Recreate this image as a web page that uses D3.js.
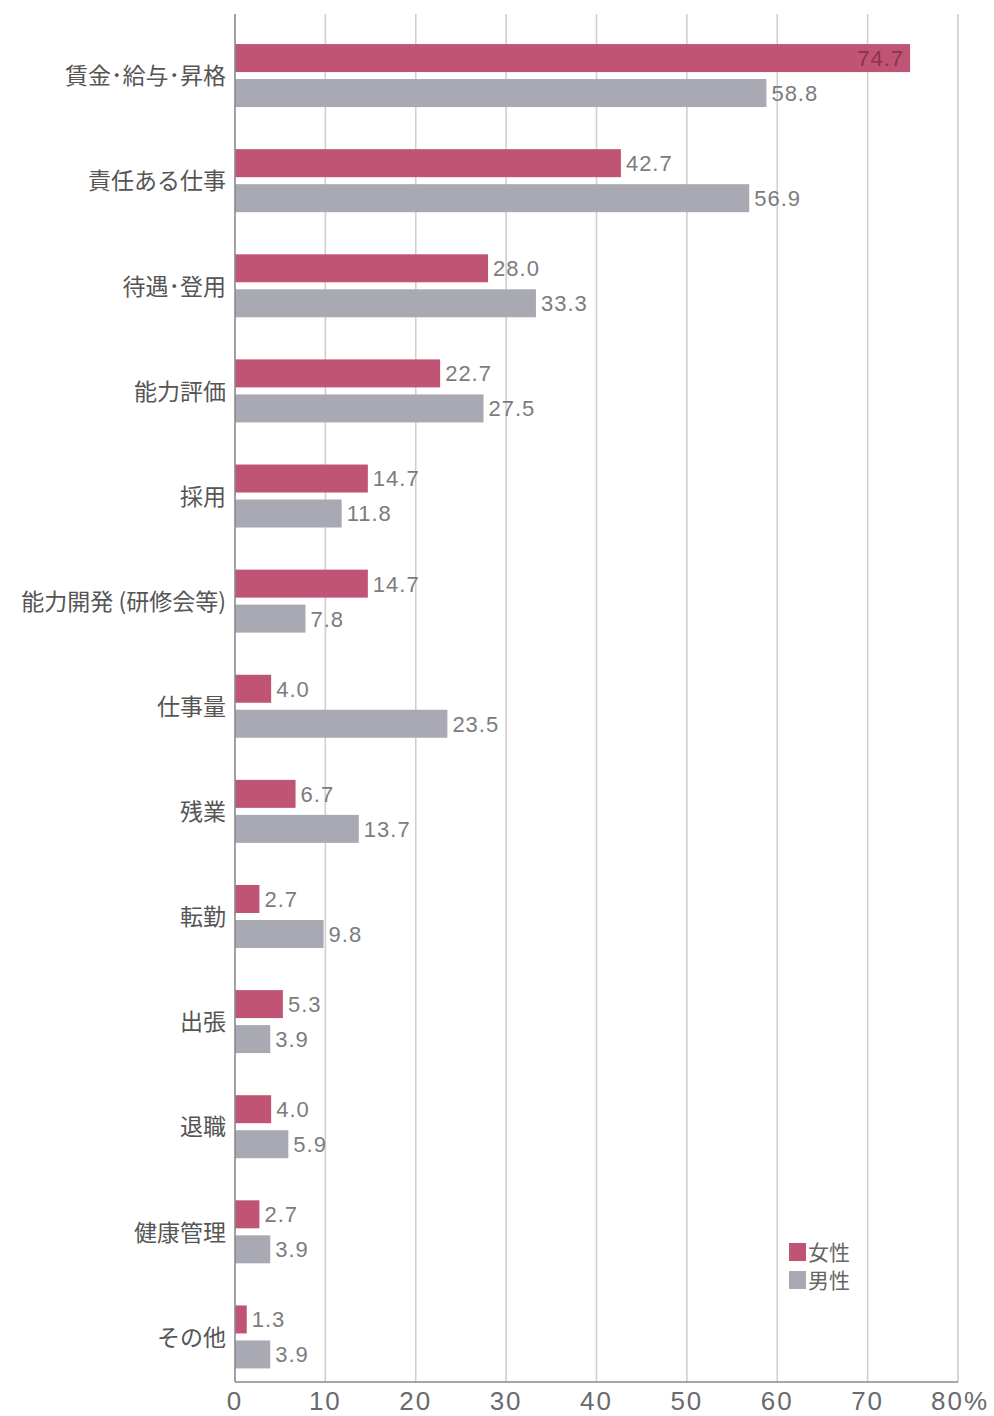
<!DOCTYPE html>
<html><head><meta charset="utf-8">
<script src="https://cdn.jsdelivr.net/npm/d3@7"></script>
<style>
body{margin:0;background:#fff;}
svg{display:block;font-family:"Noto Sans CJK JP","Noto Sans",sans-serif;}
</style></head>
<body>
<svg id="chart" width="994" height="1416"></svg>
<script>
const categories = ["賃金･給与･昇格","責任ある仕事","待遇･登用","能力評価","採用","能力開発 (研修会等)","仕事量","残業","転勤","出張","退職","健康管理","その他"];
const female = [74.7,42.7,28.0,22.7,14.7,14.7,4.0,6.7,2.7,5.3,4.0,2.7,1.3];
const male = [58.8,56.9,33.3,27.5,11.8,7.8,23.5,13.7,9.8,3.9,5.9,3.9,3.9];
const xTicks = [0,10,20,30,40,50,60,70,80];
const seriesNames = ["女性","男性"];
const colors = ["#c05474","#a9a9b3"];

const svg = d3.select("#chart");
const x = d3.scaleLinear().domain([0,80]).range([235,958]);
const y = d3.scaleBand().domain(categories).range([23.5,1390]).paddingInner(0).paddingOuter(0);
const axisY = 1382;

// gridlines
svg.append("g").selectAll("line").data(xTicks.slice(1)).join("line")
  .attr("x1",d=>x(d)).attr("x2",d=>x(d)).attr("y1",14).attr("y2",axisY)
  .attr("stroke","#cfcfd2").attr("stroke-width",1.6);

// bars
const g = svg.append("g");
categories.forEach((c,i)=>{
  const cy = y(c)+y.bandwidth()/2;
  [female[i],male[i]].forEach((v,k)=>{
    const top = k===0 ? cy-32 : cy+3;
    g.append("rect").attr("x",x(0)).attr("y",top).attr("width",x(v)-x(0)).attr("height",28)
      .attr("fill",colors[k]);
    const inside = v>70;
    g.append("text")
      .attr("x", inside ? x(v)-6 : x(v)+5)
      .attr("y", top+14).attr("dy","0.36em")
      .attr("text-anchor", inside ? "end":"start")
      .attr("font-size",22).attr("letter-spacing",1)
      .attr("font-family","Liberation Sans, sans-serif")
      .attr("fill", inside ? "#8a3350" : "#7c7c80")
      .text(v.toFixed(1));
  });
  svg.append("text").attr("x",226).attr("y",cy).attr("dy","0.36em")
    .attr("text-anchor","end").attr("font-size",23).attr("fill","#555")
    .text(c);
});

// axes lines
svg.append("line").attr("x1",x(0)).attr("x2",x(0)).attr("y1",14).attr("y2",axisY)
  .attr("stroke","#8a8a8e").attr("stroke-width",1.6);
svg.append("line").attr("x1",x(0)).attr("x2",x(80)).attr("y1",axisY).attr("y2",axisY)
  .attr("stroke","#8a8a8e").attr("stroke-width",1.6);

// tick labels
svg.append("g").selectAll("text").data(xTicks).join("text")
  .attr("x",d=>x(d)+(d===80?2:0)).attr("y",1410)
  .attr("text-anchor","middle").attr("font-size",26).attr("letter-spacing",2)
  .attr("fill","#6a6a6e")
  .attr("font-family","Liberation Sans, sans-serif")
  .text(d=>d===80? "80%" : d);

// legend
seriesNames.forEach((n,k)=>{
  svg.append("rect").attr("x",789).attr("y",1243+k*28).attr("width",17).attr("height",18).attr("fill",colors[k]);
  svg.append("text").attr("x",808).attr("y",1252+k*28).attr("dy","0.36em")
    .attr("font-size",21).attr("fill","#666").text(n);
});
</script>
</body></html>
